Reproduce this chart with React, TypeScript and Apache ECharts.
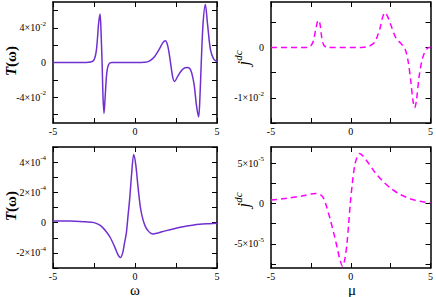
import React, { useEffect, useRef } from "react";
import * as echarts from "echarts";

// ---- data ----
const X_TICKS = [-5, -2.5, 0, 2.5, 5];
const X_LABELS = [-5, 0, 5];

// top-left: T(omega)
const T1: number[][] = [
  [-5, 0], [-3, 0], [-2.7, 0.0005], [-2.5, 0.003], [-2.35, 0.015], [-2.22, 0.045], [-2.13, 0.056],
  [-2.06, 0.03], [-2.0, -0.005], [-1.95, -0.04], [-1.89, -0.059], [-1.82, -0.04], [-1.72, -0.012],
  [-1.6, -0.002], [-1.4, 0], [0, 0], [0.6, 0.0003], [0.9, 0.002], [1.2, 0.007], [1.5, 0.016],
  [1.7, 0.023], [1.85, 0.0252], [2.0, 0.019], [2.15, 0.002], [2.3, -0.017], [2.42, -0.022],
  [2.6, -0.016], [2.85, -0.009], [3.05, -0.006], [3.2, -0.0058], [3.4, -0.009], [3.6, -0.025],
  [3.75, -0.05], [3.88, -0.063], [3.96, -0.04], [4.04, 0], [4.15, 0.045], [4.29, 0.067],
  [4.42, 0.045], [4.6, 0.015], [4.8, 0.004], [5, 0.001],
];
const T1_YTICKS = [-0.06, -0.04, -0.02, 0, 0.02, 0.04, 0.06];
const T1_YLABELS = [-0.04, 0, 0.04];

// top-right: j^dc
const J1: number[][] = [
  [-5, 0], [-2.7, 0], [-2.5, 0.0003], [-2.35, 0.0012], [-2.2, 0.0035], [-2.08, 0.0052], [-2.0, 0.0054],
  [-1.92, 0.0045], [-1.82, 0.002], [-1.7, 0.0005], [-1.5, 0], [0.7, 0], [1.0, 0.0001], [1.2, 0.0003],
  [1.5, 0.001], [1.7, 0.0025], [1.85, 0.004], [2.0, 0.006], [2.15, 0.0069], [2.3, 0.0062],
  [2.53, 0.0043], [2.84, 0.0018], [3.14, 0.0008], [3.3, 0.0002], [3.45, -0.0007], [3.6, -0.0028],
  [3.76, -0.0066], [3.9, -0.0105], [4.01, -0.012], [4.12, -0.0105], [4.28, -0.0059], [4.45, -0.0028],
  [4.59, -0.0013], [4.75, -0.0004], [4.9, 0], [5, 0],
];
const J1_YTICKS = [-0.015, -0.01, -0.005, 0, 0.005];
const J1_YLABELS = [-0.01, 0];

// bottom-left: T(omega)
const T2: number[][] = [
  [-5, 0.00001], [-4, 0.00001], [-3, 0.000005], [-2.5, 0], [-2.1, -0.00002], [-1.75, -0.00006],
  [-1.5, -0.0001], [-1.24, -0.00016], [-1.05, -0.00021], [-0.89, -0.000231], [-0.75, -0.0002],
  [-0.65, -0.00014], [-0.53, -0.000071], [-0.43, 0.00004], [-0.33, 0.00015], [-0.2, 0.00033],
  [-0.08, 0.000451], [0.05, 0.00038], [0.18, 0.00024], [0.33, 0.0001], [0.49, 0.000018],
  [0.65, -0.00003], [0.79, -0.000053], [0.95, -0.00007], [1.1, -0.000076], [1.4, -0.000068],
  [1.91, -0.000053], [2.4, -0.00004], [2.93, -0.000027], [3.5, -0.000017], [3.94, -0.000011],
  [4.5, -0.000007], [5, -0.000004],
];
const T2_YTICKS = [-0.0003, -0.0002, -0.0001, 0, 0.0001, 0.0002, 0.0003, 0.0004, 0.0005];
const T2_YLABELS = [-0.0002, 0, 0.0002, 0.0004];

// bottom-right: j^dc
const J2: number[][] = [
  [-5, 0.0000042], [-4, 0.0000065], [-3, 0.0000095], [-2.2, 0.0000125], [-1.9, 0.000011],
  [-1.69, 0.000006], [-1.5, -0.000005], [-1.27, -0.000021], [-1.05, -0.000038], [-0.86, -0.000054],
  [-0.7, -0.000068], [-0.51, -0.000078], [-0.38, -0.00007], [-0.24, -0.00005], [-0.13, -0.000025],
  [-0.03, 0], [0.1, 0.000025], [0.24, 0.000046], [0.4, 0.000058], [0.55, 0.000062], [0.8, 0.000058],
  [1.11, 0.00005], [1.5, 0.000039], [1.94, 0.000029], [2.5, 0.000019], [2.97, 0.0000125],
  [3.5, 0.0000075], [4.0, 0.0000042], [4.5, 0.000002], [5, 0.0000008],
];
const J2_YTICKS = [-0.000075, -0.00005, -0.000025, 0, 0.000025, 0.00005];
const J2_YLABELS = [-0.00005, 0, 0.00005];

const PURPLE = "#7030D0";
const MAGENTA = "#FF00FF";
const FONT = "Liberation Serif";

function sciFormatter(exp: number) {
  return (v: number) => {
    const m = Math.round(v / Math.pow(10, exp));
    if (m === 0) return "0";
    return `{n|${m}×10}{s|${exp}}`;
  };
}

const labelRich = {
  n: { fontFamily: FONT, fontSize: 10, color: "#000" },
  s: { fontFamily: FONT, fontSize: 7, color: "#000", padding: [0, 0, 8, 0] },
};

export default function App() {
  const ref = useRef<HTMLDivElement>(null);
  useEffect(() => {
    if (!ref.current) return;
    const chart = echarts.init(ref.current, null, { renderer: "svg" });
    const grids = [
      { left: 53, top: 2, width: 164, height: 121 },
      { left: 271, top: 2, width: 162, height: 121 },
      { left: 53, top: 147, width: 164, height: 121 },
      { left: 271, top: 147, width: 162, height: 121 },
    ];
    const panels = [
      { data: T1, min: -0.07, max: 0.07, ticks: T1_YTICKS, labels: T1_YLABELS, exp: -2, color: PURPLE, dashed: false },
      { data: J1, min: -0.015, max: 0.009, ticks: J1_YTICKS, labels: J1_YLABELS, exp: -2, color: MAGENTA, dashed: true },
      { data: T2, min: -0.0003, max: 0.0005, ticks: T2_YTICKS, labels: T2_YLABELS, exp: -4, color: PURPLE, dashed: false },
      { data: J2, min: -0.00008, max: 0.00007, ticks: J2_YTICKS, labels: J2_YLABELS, exp: -5, color: MAGENTA, dashed: true },
    ];
    const axisLine = { show: true, onZero: false, lineStyle: { color: "#000", width: 1.5 } };
    const xAxis: any[] = [];
    const yAxis: any[] = [];
    const series: any[] = [];
    panels.forEach((p, i) => {
      xAxis.push({
        type: "value", gridIndex: i, min: -5, max: 5, position: "bottom",
        axisLine, splitLine: { show: false },
        axisTick: { show: true, inside: true, length: 5, customValues: X_TICKS, lineStyle: { color: "#000", width: 1 } },
        axisLabel: { show: true, customValues: X_LABELS, fontFamily: FONT, fontSize: 10, lineHeight: 10, color: "#000", margin: 3 },
      });
      xAxis.push({
        type: "value", gridIndex: i, min: -5, max: 5, position: "top",
        axisLine, splitLine: { show: false },
        axisTick: { show: true, inside: true, length: 5, customValues: X_TICKS, lineStyle: { color: "#000", width: 1 } },
        axisLabel: { show: false },
      });
      yAxis.push({
        type: "value", gridIndex: i, min: p.min, max: p.max, position: "left",
        axisLine, splitLine: { show: false },
        axisTick: { show: true, inside: true, length: 5, customValues: p.ticks, lineStyle: { color: "#000", width: 1 } },
        axisLabel: {
          show: true, customValues: p.labels, fontFamily: FONT, fontSize: 10, color: "#000", margin: 7,
          formatter: sciFormatter(p.exp), rich: labelRich,
        },
      });
      yAxis.push({
        type: "value", gridIndex: i, min: p.min, max: p.max, position: "right",
        axisLine, splitLine: { show: false },
        axisTick: { show: true, inside: true, length: 5, customValues: p.ticks, lineStyle: { color: "#000", width: 1 } },
        axisLabel: { show: false },
      });
      series.push({
        type: "line", xAxisIndex: i * 2, yAxisIndex: i * 2, data: p.data,
        showSymbol: false, smooth: 0.3,
        lineStyle: { color: p.color, width: 1.5, type: p.dashed ? [6, 4] : "solid" },
        silent: true,
      });
    });

    const titleRich = {
      i: { fontFamily: FONT, fontSize: 15, fontStyle: "italic", fontWeight: "bold", color: "#000" },
      r: { fontFamily: FONT, fontSize: 15, fontWeight: "bold", color: "#000" },
      js: { fontFamily: FONT, fontSize: 11, fontStyle: "italic", color: "#000", padding: [0, 0, 10, 0] },
      ji: { fontFamily: FONT, fontSize: 17, fontStyle: "italic", color: "#000" },
    };
    const vtitle = (x: number, y: number, text: string) => ({
      type: "text", x, y, rotation: Math.PI / 2,
      style: { text, rich: titleRich, align: "center", verticalAlign: "middle" },
    });

    chart.setOption({
      animation: false,
      grid: grids,
      xAxis, yAxis, series,
      graphic: [
        vtitle(11, 61, "{i|T}{r|(ω)}"),
        vtitle(11, 206, "{i|T}{r|(ω)}"),
        vtitle(243, 58, "{ji|j}{js|dc}"),
        vtitle(243, 200, "{ji|j}{js|dc}"),
        { type: "text", x: 135, y: 290, style: { text: "ω", font: `15px ${FONT}`, fill: "#000", align: "center", verticalAlign: "middle" } },
        { type: "text", x: 352, y: 290, style: { text: "μ", font: `15px ${FONT}`, fill: "#000", align: "center", verticalAlign: "middle" } },
      ],
    });
    return () => chart.dispose();
  }, []);
  return <div ref={ref} style={{ position: "fixed", left: 0, top: 0, width: 436, height: 297, background: "#fff" }} />;
}
